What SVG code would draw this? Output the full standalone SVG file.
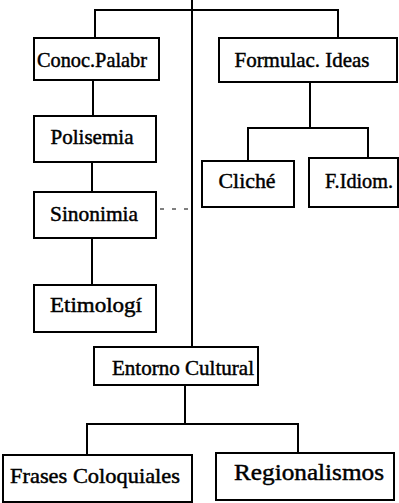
<svg xmlns="http://www.w3.org/2000/svg" width="399" height="503" viewBox="0 0 399 503">
<style>
.box{fill:#fff;stroke:#000;stroke-width:2}
.lbl{font-family:'Liberation Serif',serif;font-size:21px;fill:#000;text-anchor:middle;stroke:#000;stroke-width:0.45}
.ln{stroke:#000;stroke-width:2;fill:none}
.dash{stroke:#000;stroke-width:1;stroke-dasharray:4 8;fill:none}
</style>
<rect width="399" height="503" fill="#fff"/>
<g id="connectors">
<path class="ln" d="M192 0V347"/>
<path class="ln" d="M95 38V10H338V38"/>
<path class="ln" d="M93 80V116M92 162V192M92 238V285"/>
<path class="ln" d="M310 82V128M248 161V128H368V158"/>
<path class="ln" d="M185 385V424M87 455V424H298V453"/>
<path class="dash" d="M160 209H190"/>
</g>
<g id="conoc"><rect class="box" x="34" y="38" width="125" height="42"/><text class="lbl" x="92" y="67" textLength="110" lengthAdjust="spacingAndGlyphs">Conoc.Palabr</text></g>
<g id="formulac"><rect class="box" x="219" y="38" width="178" height="44"/><text class="lbl" x="302" y="67" textLength="135" lengthAdjust="spacingAndGlyphs">Formulac. Ideas</text></g>
<g id="polisemia"><rect class="box" x="34" y="116" width="122" height="46"/><text class="lbl" x="92" y="144" textLength="83" lengthAdjust="spacingAndGlyphs">Polisemia</text></g>
<g id="sinonimia"><rect class="box" x="34" y="192" width="122" height="46"/><text class="lbl" x="94" y="221" textLength="88" lengthAdjust="spacingAndGlyphs">Sinonimia</text></g>
<g id="etimologi"><rect class="box" x="34" y="285" width="122" height="47"/><text class="lbl" x="96" y="312" textLength="92" lengthAdjust="spacingAndGlyphs">Etimologí</text></g>
<g id="cliche"><rect class="box" x="202" y="161" width="92" height="46"/><text class="lbl" x="247" y="188" textLength="57" lengthAdjust="spacingAndGlyphs">Cliché</text></g>
<g id="fidiom"><rect class="box" x="309" y="158" width="89" height="49"/><text class="lbl" x="359" y="188" textLength="68" lengthAdjust="spacingAndGlyphs">F.Idiom.</text></g>
<g id="entorno"><rect class="box" x="94" y="347" width="164" height="38"/><text class="lbl" x="183" y="375" textLength="142" lengthAdjust="spacingAndGlyphs">Entorno Cultural</text></g>
<g id="frases"><rect class="box" x="3" y="455" width="189" height="47"/><text class="lbl" x="95" y="483" textLength="170" lengthAdjust="spacingAndGlyphs">Frases Coloquiales</text></g>
<g id="regionalismos"><rect class="box" x="216" y="453" width="178" height="47"/><text class="lbl" x="309" y="480" style="font-size:23px" textLength="150" lengthAdjust="spacingAndGlyphs">Regionalismos</text></g>
</svg>
